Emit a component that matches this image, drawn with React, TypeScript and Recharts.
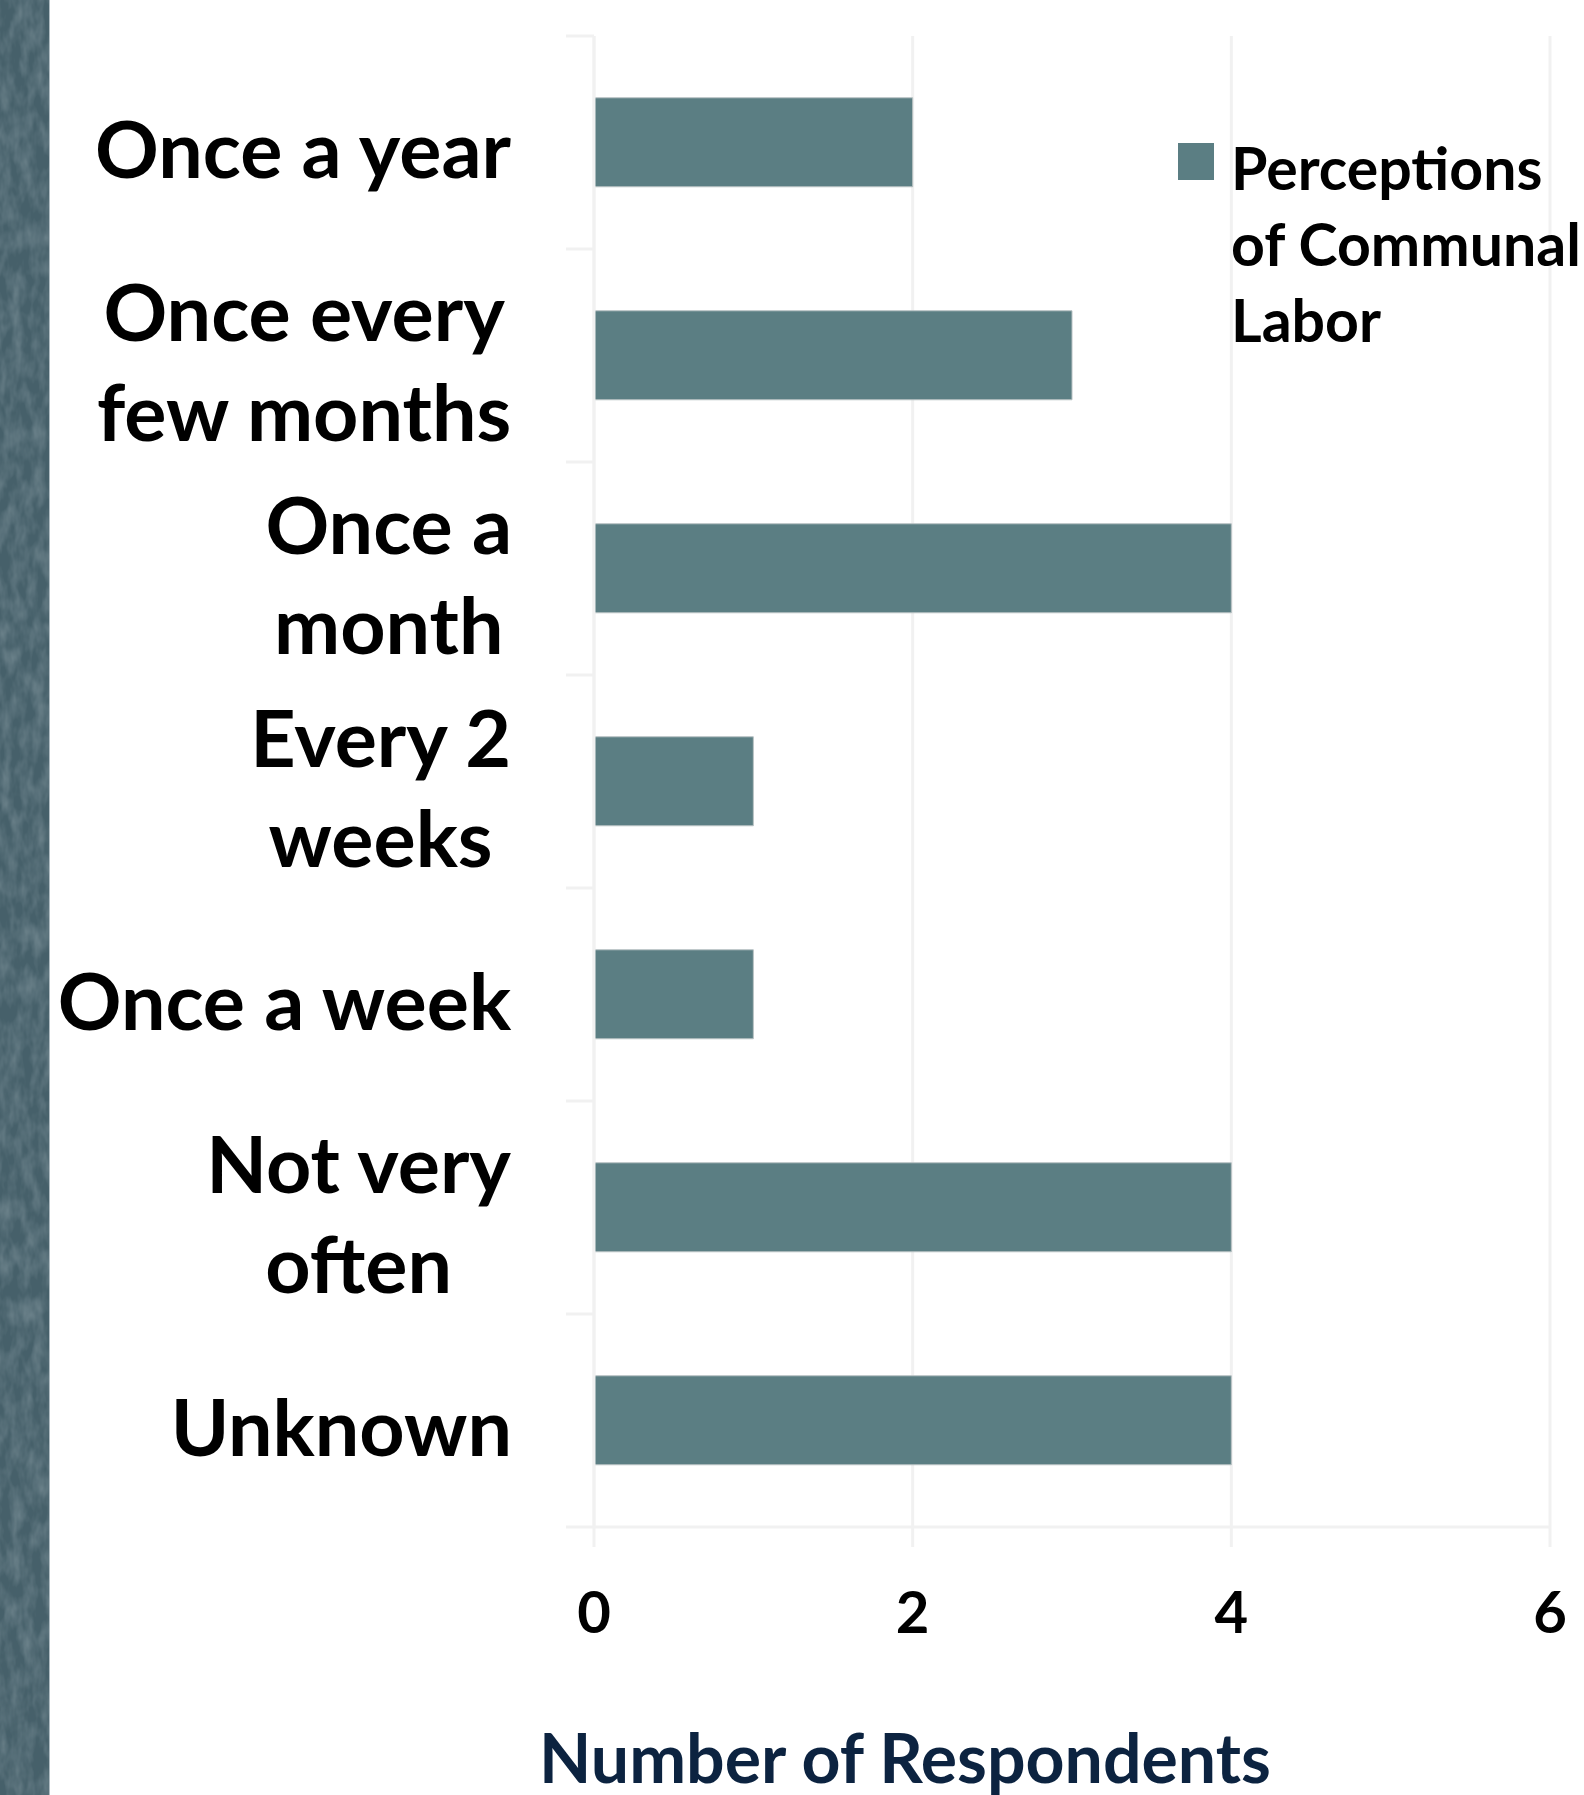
import { BarChart, Bar, XAxis, YAxis, CartesianGrid, Legend, Label } from 'recharts';

const categories = [
  'Once a year',
  'Once every\nfew months',
  'Once a\nmonth',
  'Every 2\nweeks',
  'Once a week',
  'Not very\noften',
  'Unknown',
];
const respondents = [2, 3, 4, 1, 1, 4, 4];
const xTicks = [0, 2, 4, 6];
const seriesName = 'Perceptions of Communal Labor';
const legendLabel = 'Perceptions\nof Communal\nLabor';
const axisTitle = 'Number of Respondents';

const data = categories.map((name, i) => ({ name, value: respondents[i] }));

const W = 1584;
const H = 1795;
const FONT = 'Lato, "Open Sans", sans-serif';
const BAR = '#5b7e83';
const GRID = '#f1f1f1';
const CAT_SIZE = 79;
const CAT_LINE = 100;
const Y_TICK_LEN = 28;
const Y_TICK_GAP = 82;

let measureCtx: CanvasRenderingContext2D | null = null;
function measure(text: string, font: string) {
  if (!measureCtx) measureCtx = document.createElement('canvas').getContext('2d');
  if (!measureCtx) return text.length * 40;
  measureCtx.font = font;
  return measureCtx.measureText(text).width;
}

function CategoryTick(props: any) {
  const { x, y, payload, index } = props;
  const lines: string[] = String(payload.value).split('\n');
  const font = `700 ${CAT_SIZE}px Lato`;
  const widths = lines.map(l => measure(l, font));
  const block = Math.max(...widths);
  const centerX = x - block / 2;
  const half = payload.offset || 106;
  const cap = CAT_SIZE * 0.36;
  const axisX = x + Y_TICK_GAP;
  return (
    <g>
      <line x1={axisX - Y_TICK_LEN} x2={axisX} y1={y - half} y2={y - half} stroke={GRID} strokeWidth={3} />
      {index === categories.length - 1 && (
        <line x1={axisX - Y_TICK_LEN} x2={axisX} y1={y + half} y2={y + half} stroke={GRID} strokeWidth={3} />
      )}
      {lines.map((l, i) => (
        <text
          key={i}
          x={centerX}
          y={y + 7 + cap + (i - (lines.length - 1) / 2) * CAT_LINE}
          textAnchor="middle"
          fontFamily={FONT}
          fontWeight={700}
          fontSize={CAT_SIZE}
          fill="#000"
        >
          {l}
        </text>
      ))}
    </g>
  );
}

function LegendBox() {
  return (
    <div style={{ display: 'flex', alignItems: 'flex-start', fontFamily: FONT }}>
      <div style={{ width: 36, height: 37, background: BAR, marginTop: 13, flex: 'none' }} />
      <div
        style={{
          marginLeft: 17,
          fontWeight: 700,
          fontSize: 59,
          lineHeight: '76px',
          color: '#000',
          textAlign: 'left',
          whiteSpace: 'pre',
          flex: 'none',
        }}
      >
        {legendLabel}
      </div>
    </div>
  );
}

// mottled texture for the slate strip at the left edge
function Strip() {
  return (
    <svg width={50} height={H} style={{ position: 'absolute', left: 0, top: 0 }}>
      <defs>
        <filter id="strip-noise" x="0" y="0" width="100%" height="100%">
          <feTurbulence type="fractalNoise" baseFrequency="0.09 0.04" numOctaves={3} seed={4} />
          <feColorMatrix
            type="matrix"
            values="0 0 0 0 0.78  0 0 0 0 0.86  0 0 0 0 0.9  0 0 0 0.9 -0.3"
          />
        </filter>
      </defs>
      <rect width={50} height={H} fill="#46606a" />
      <rect width={50} height={H} filter="url(#strip-noise)" opacity={0.45} />
      <rect x={49} width={1} height={H} fill="#aebbc1" />
    </svg>
  );
}

export default function App() {
  return (
    <div style={{ position: 'absolute', left: 0, top: 0, width: W, height: H, overflow: 'hidden', background: '#fff' }}>
      <Strip />
      <BarChart
        width={W}
        height={H}
        data={data}
        layout="vertical"
        margin={{ top: 36, right: 34, bottom: 0, left: 0 }}
        barCategoryGap="29%"
      >
        <CartesianGrid horizontal={false} stroke={GRID} strokeWidth={3} />
        <XAxis
          type="number"
          domain={[0, 6]}
          ticks={xTicks}
          height={268}
          axisLine={{ stroke: GRID, strokeWidth: 3 }}
          tickLine={{ stroke: GRID, strokeWidth: 3 }}
          tickSize={20}
          tickMargin={45}
          tick={{ fill: '#000', fontFamily: FONT, fontWeight: 700, fontSize: 58 }}
        >
          <Label
            value={axisTitle}
            position="insideBottom"
            offset={12}
            dx={-167}
            fill="#0c2340"
            fontFamily={FONT}
            fontWeight={700}
            fontSize={68}
          />
        </XAxis>
        <YAxis
          type="category"
          dataKey="name"
          width={594}
          interval={0}
          axisLine={{ stroke: GRID, strokeWidth: 3 }}
          tickLine={false}
          tickSize={Y_TICK_LEN}
          tickMargin={Y_TICK_GAP - Y_TICK_LEN}
          tick={<CategoryTick />}
        />
        <Legend
          layout="vertical"
          align="center"
          verticalAlign="middle"
          wrapperStyle={{ left: 1178, top: 130, width: 440 }}
          content={() => <LegendBox />}
        />
        <Bar
          dataKey="value"
          name={seriesName}
          fill={BAR}
          stroke="#b9c2c3"
          strokeWidth={1}
          isAnimationActive={false}
        />
      </BarChart>
    </div>
  );
}
